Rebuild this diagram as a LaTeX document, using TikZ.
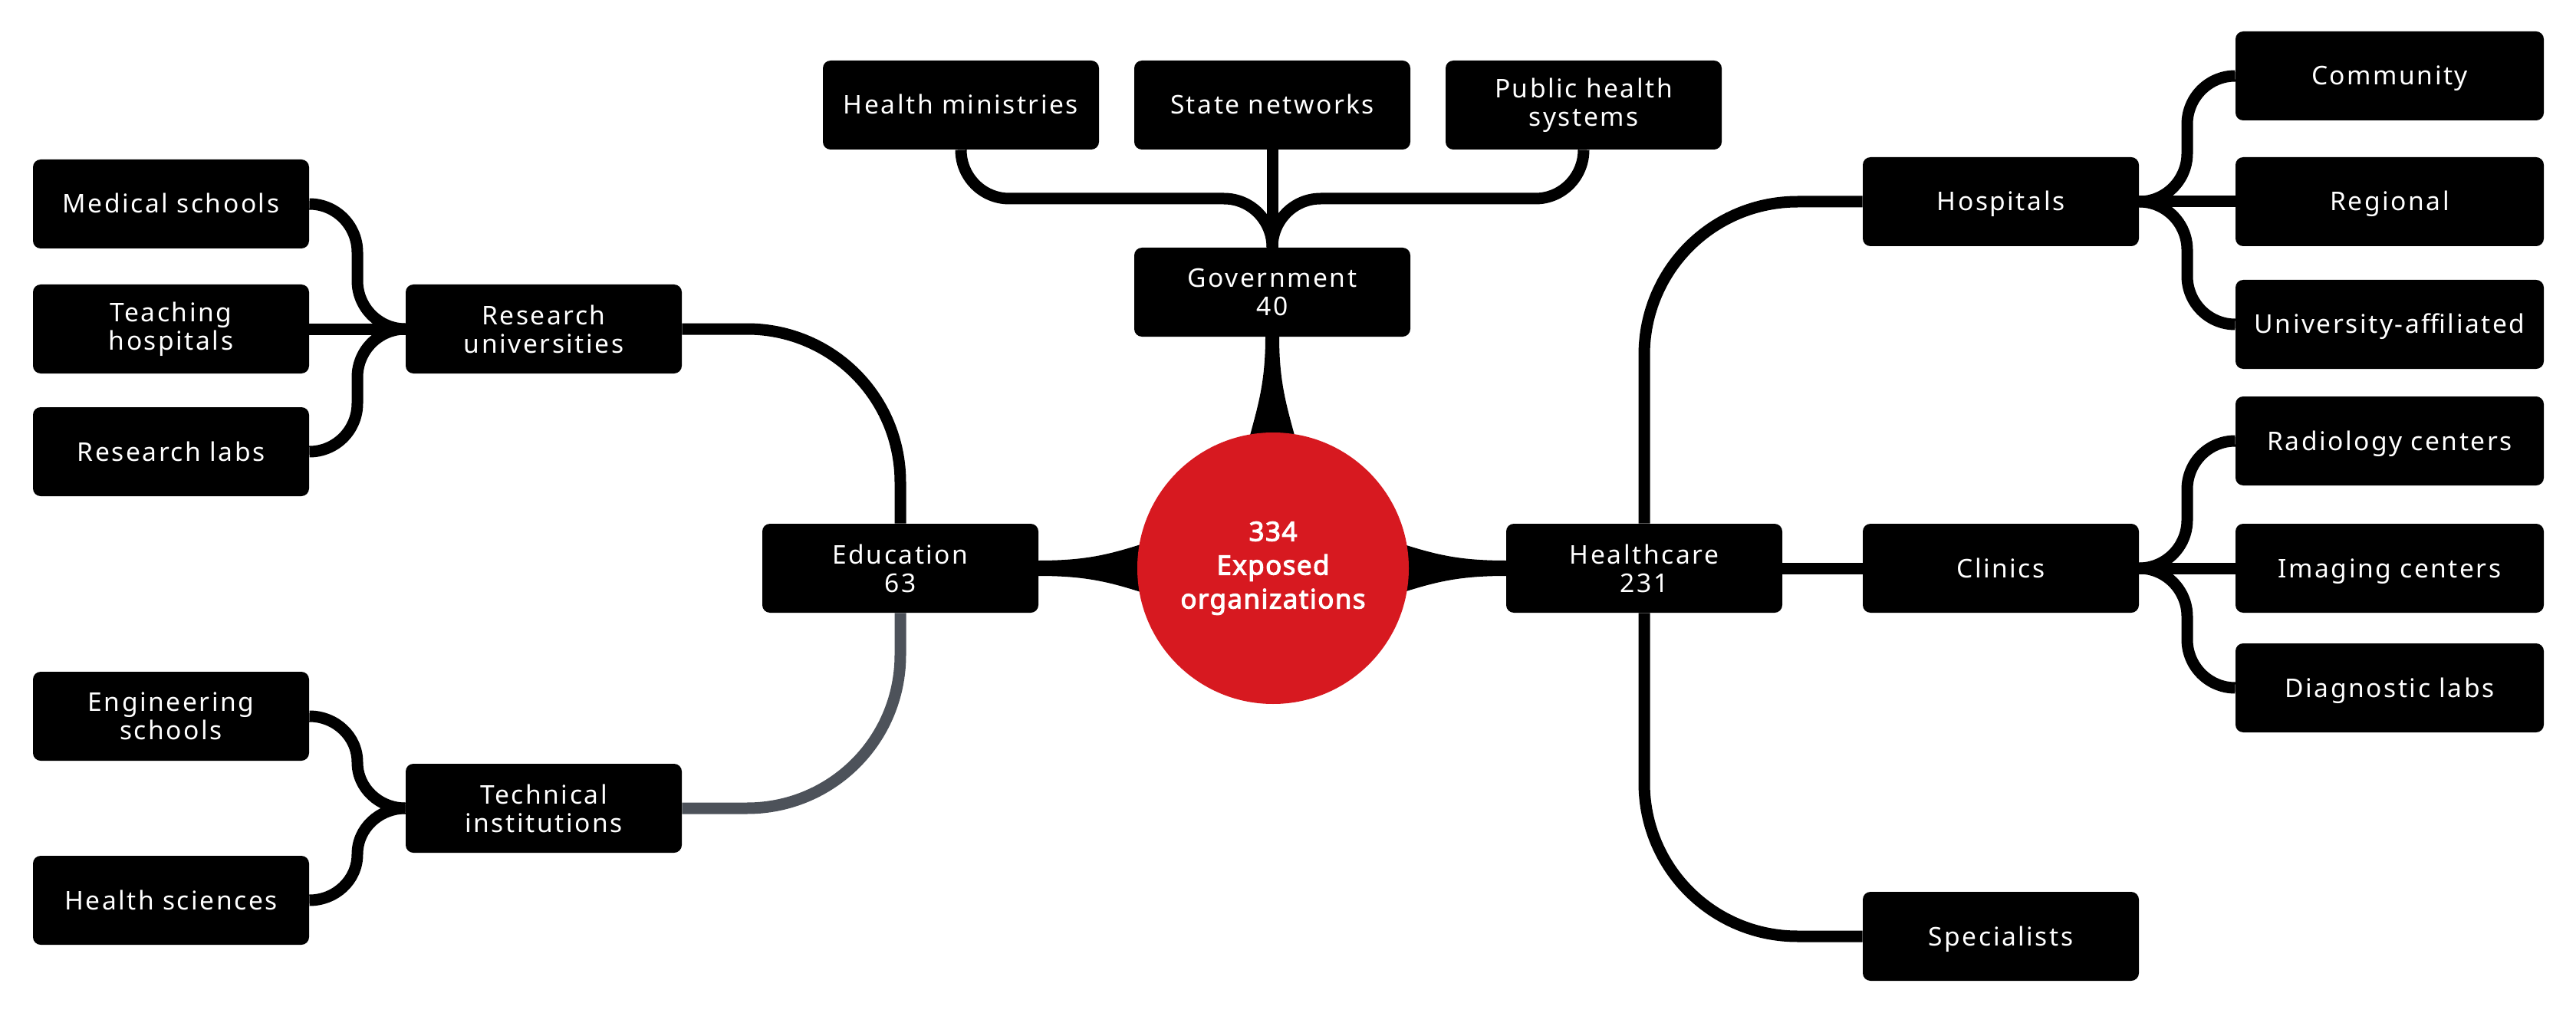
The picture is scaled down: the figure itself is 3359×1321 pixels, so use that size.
\documentclass[tikz,border=0pt]{standalone}
\usepackage{fontspec}
\setmainfont{Noto Sans}[LetterSpace=7.5]
\newfontfamily\corefont{Noto Sans}[LetterSpace=4, FakeBold=3]
\definecolor{crimson}{HTML}{D71920}
\definecolor{edugray}{HTML}{4D525A}
\pgfdeclarelayer{bg}
\pgfsetlayers{bg,main}
\begin{document}
\begin{tikzpicture}[x=0.5pt,y=-0.5pt,
  box/.style={rectangle, rounded corners=5pt, fill=black, text=white,
    minimum width=180pt, minimum height=58pt, inner sep=0pt, align=center,
    font=\fontsize{16.8pt}{18.5pt}\selectfont},
  one/.style={text height=12pt, text depth=0pt},
  wide/.style={minimum width=201pt},
  conn/.style={draw=black, line width=7.5pt},
  core/.style={circle, fill=crimson, minimum size=177pt, inner sep=0pt,
    text=white, align=center,
    font=\corefont\fontsize{17.5pt}{22pt}\selectfont}]
\useasboundingbox (0,0) rectangle (3359,1321);

% nodes
\node[core] (core) at (1660,741) {334\\Exposed\\organizations};
\node[box,one] (ms) at (223,266) {Medical schools};
\node[box] (th) at (223,429) {Teaching\\hospitals};
\node[box,one] (rl) at (223,589) {Research labs};
\node[box] (es) at (223,934) {Engineering\\schools};
\node[box,one] (hs) at (223,1174) {Health sciences};
\node[box] (ru) at (709,429) {Research\\universities};
\node[box] (ti) at (709,1054) {Technical\\institutions};
\node[box] (edu) at (1174,741) {Education\\63};
\node[box,one] (hm) at (1253,137) {Health ministries};
\node[box,one] (sn) at (1659,137) {State networks};
\node[box] (ph) at (2065,137) {Public health\\systems};
\node[box] (gov) at (1659,381) {Government\\40};
\node[box] (hc) at (2144,741) {Healthcare\\231};
\node[box,one] (hosp) at (2609,263) {Hospitals};
\node[box,one] (cl) at (2609,741) {Clinics};
\node[box,one] (spec) at (2609,1221) {Specialists};
\node[box,one,wide] (comm) at (3116,99) {Community};
\node[box,one,wide] (reg) at (3116,263) {Regional};
\node[box,one,wide] (ua) at (3116,423) {University-affiliated};
\node[box,one,wide] (rad) at (3116,575) {Radiology centers};
\node[box,one,wide] (img) at (3116,741) {Imaging centers};
\node[box,one,wide] (dl) at (3116,897) {Diagnostic labs};

\begin{pgfonlayer}{bg}
% tapered stems from the core
\fill[black] (1340,731) -- (1354,731) .. controls (1420,731) and (1450,722) .. (1500,706)
  -- (1500,776) .. controls (1450,760) and (1420,751) .. (1354,751) -- (1340,751) -- cycle;
\fill[black] (1980,731) -- (1964,731) .. controls (1898,731) and (1868,722) .. (1818,706)
  -- (1818,776) .. controls (1868,760) and (1898,751) .. (1964,751) -- (1980,751) -- cycle;
\fill[black] (1650,430) -- (1650,439) .. controls (1650,500) and (1640,530) .. (1628,575)
  -- (1690,575) .. controls (1678,530) and (1668,500) .. (1668,439) -- (1668,430) -- cycle;

% government
\draw[conn] (hm.south) to[out=270,in=180] (1316,259) -- (1596,259) to[out=0,in=90] (gov.north);
\draw[conn] (sn.south) -- (gov.north);
\draw[conn] (ph.south) to[out=270,in=0] (2002,259) -- (1722,259) to[out=180,in=90] (gov.north);

% education
\draw[conn] (ru.east) -- (974,429) to[out=0,in=90] (1174,629) -- (edu.north);
\draw[conn, draw=edugray] (edu.south) -- (1174,854) to[out=270,in=0] (974,1054) -- (ti.east);
\draw[conn] (ms.east) to[out=0,in=90] (466,329) -- (466,366) to[out=270,in=180] (ru.west);
\draw[conn] (th.east) -- (ru.west);
\draw[conn] (rl.east) to[out=0,in=270] (466,526) -- (466,492) to[out=90,in=180] (ru.west);
\draw[conn] (es.east) to[out=0,in=90] (466,994) to[out=270,in=180] (ti.west);
\draw[conn] (hs.east) to[out=0,in=270] (466,1114) to[out=90,in=180] (ti.west);

% healthcare
\draw[conn] (hc.north) -- (2144,463) to[out=90,in=180] (2344,263) -- (hosp.west);
\draw[conn] (hc.east) -- (cl.west);
\draw[conn] (hc.south) -- (2144,1021) to[out=270,in=180] (2344,1221) -- (spec.west);
\draw[conn] (hosp.east) to[out=0,in=270] (2852,200) -- (2852,162) to[out=90,in=180] (comm.west);
\draw[conn] (hosp.east) -- (reg.west);
\draw[conn] (hosp.east) to[out=0,in=90] (2852,326) -- (2852,360) to[out=270,in=180] (ua.west);
\draw[conn] (cl.east) to[out=0,in=270] (2852,678) -- (2852,638) to[out=90,in=180] (rad.west);
\draw[conn] (cl.east) -- (img.west);
\draw[conn] (cl.east) to[out=0,in=90] (2852,804) -- (2852,834) to[out=270,in=180] (dl.west);
\end{pgfonlayer}
\end{tikzpicture}
\end{document}
